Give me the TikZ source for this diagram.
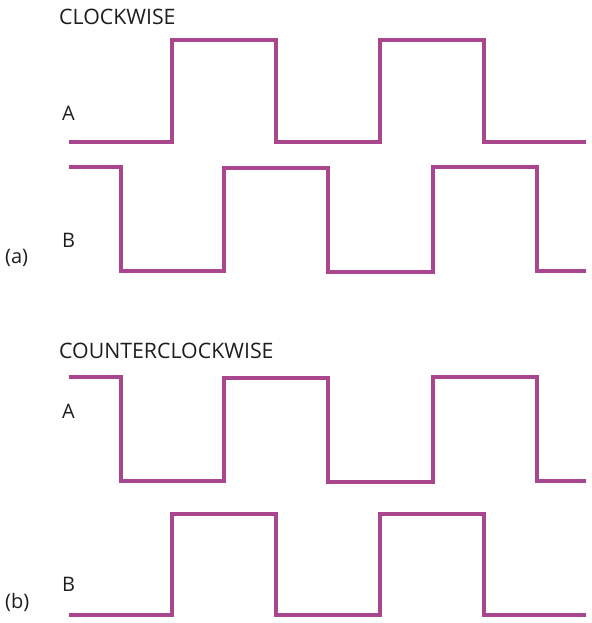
\documentclass[tikz,border=0pt]{standalone}
\usepackage{fontspec}
\setmainfont{Open Sans}
\definecolor{wave}{RGB}{170,70,142}
\definecolor{txt}{RGB}{30,30,30}
\begin{document}
\begin{tikzpicture}[x=1pt,y=-1pt,
  wave/.style={draw=wave,line width=3.1pt,line join=miter},
  lbl/.style={anchor=base west,inner sep=0pt,text=txt,font=\fontsize{20}{24}\selectfont},
  ttl/.style={lbl,font=\fontsize{21.3}{25}\selectfont}]
\useasboundingbox (0,0) rectangle (591,623);
% labels
\node[ttl] (cw) at (59,25) {CLOCKWISE};
\node[lbl] (aA) at (62,121) {A};
\node[lbl] (aB) at (62,247) {B};
\node[lbl] (la) at (5,263) {(a)};
\node[ttl] (ccw) at (59,358) {COUNTERCLOCKWISE};
\node[lbl] (bA) at (62,418) {A};
\node[lbl] (bB) at (62,591) {B};
\node[lbl] (lb) at (5,608) {(b)};
% clockwise A
\draw[wave] (69,142) -- (172,142) -- (172,40) -- (276,40) -- (276,142) -- (380,142) -- (380,40) -- (484,40) -- (484,142) -- (586,142);
% clockwise B
\draw[wave] (69,167) -- (121,167) -- (121,271) -- (224,271) -- (224,168) -- (328,168) -- (328,272) -- (433,272) -- (433,167) -- (537,167) -- (537,271) -- (586,271);
% counterclockwise A
\draw[wave] (69,377) -- (121,377) -- (121,481) -- (224,481) -- (224,378) -- (328,378) -- (328,482) -- (433,482) -- (433,377) -- (537,377) -- (537,481) -- (586,481);
% counterclockwise B
\draw[wave] (69,615) -- (172,615) -- (172,514) -- (276,514) -- (276,615) -- (380,615) -- (380,514) -- (484,514) -- (484,615) -- (586,615);
\end{tikzpicture}
\end{document}
